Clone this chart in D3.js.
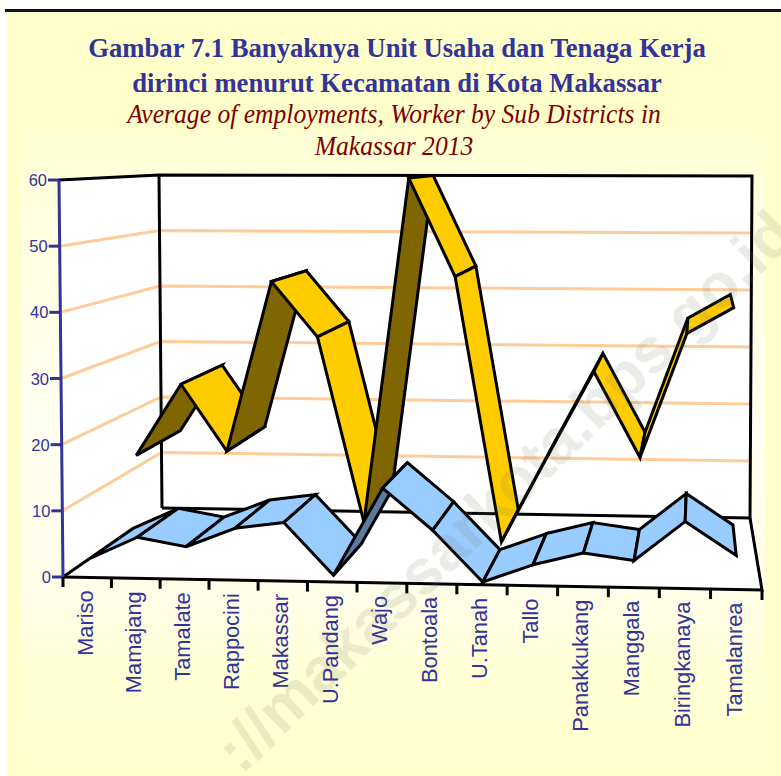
<!DOCTYPE html>
<html><head><meta charset="utf-8">
<script src="https://cdn.jsdelivr.net/npm/d3@7"></script>
<style>html,body{margin:0;padding:0;background:#fff}svg{display:block}</style>
</head><body><div id="c"></div>
<script>
const categories = ["Mariso","Mamajang","Tamalate","Rappocini","Makassar","U.Pandang","Wajo","Bontoala","U.Tanah","Tallo","Panakkukang","Manggala","Biringkanaya","Tamalanrea"];
const unitUsaha = [2.6,6,4.7,7.6,8.6,0.8,14,7.8,0.2,2.9,4.8,3.8,9.7,4.8];
const tenagaKerja = [14.2,26,15.1,43,34,3.8,60,44,1,15,28.8,15,35.1,39.3];
const valueTicks = [0,10,20,30,40,50,60];
const titleLines = ["Gambar 7.1 Banyaknya Unit Usaha dan Tenaga Kerja","dirinci menurut Kecamatan di Kota Makassar"];
const subtitleLines = ["Average of employments, Worker by Sub Districts in","Makassar 2013"];
const watermark = "://makassarkota.bps.go.id";

const W=781,H=776;
const svg=d3.select("#c").append("svg").attr("width",W).attr("height",H);
const defs=svg.append("defs");
const g1=defs.append("linearGradient").attr("id","panel").attr("x1",0).attr("y1",0).attr("x2",0).attr("y2",1);
[[0,"#ffffd2"],[.12,"#ffffe0"],[.45,"#fffff0"],[.72,"#fffee8"],[.85,"#ffffd4"],[1,"#ffffcc"]].forEach(s=>g1.append("stop").attr("offset",s[0]).attr("stop-color",s[1]));

// backdrop
svg.append("rect").attr("x",7).attr("y",10).attr("width",W-7).attr("height",H-10).attr("fill","#ffffcc");
svg.append("rect").attr("x",22).attr("y",132).attr("width",743).attr("height",H-132).attr("fill","url(#panel)");
svg.append("rect").attr("x",5).attr("y",9).attr("width",W-5).attr("height",3).attr("fill","#111");

// titles
const serif="'Liberation Serif','Times New Roman',serif", sans="'Liberation Sans',Arial,sans-serif";
titleLines.forEach((t,i)=>svg.append("text").text(t).attr("transform",`translate(397,${[57,92][i]}) scale(0.96,1)`).attr("text-anchor","middle")
  .attr("font-family",serif).attr("font-weight","bold").attr("font-size",27.8).attr("fill","#333399"));
subtitleLines.forEach((t,i)=>svg.append("text").text(t).attr("transform",`translate(394,${[123,155][i]}) scale(0.97,1)`).attr("text-anchor","middle")
  .attr("font-family",serif).attr("font-style","italic").attr("font-size",26.4).attr("fill","#800000"));

// scales: the three chart dimensions, normalised, then mapped to the page by the box corners
const band=d3.scaleBand().domain(categories).range([0,1]);
const tOf=c=>band(c)+band.bandwidth()/2;
const vScale=d3.scaleLinear().domain([0,60]).range([0,1]);
// box corners
const box={fl0:[63,577],fr0:[762,590],bl0:[162,508],br0:[750,518],
           fl1:[59,180],fr1:[764,182],bl1:[159,175],br1:[752,176]};
const mix=d3.interpolateNumber;
function P(t0,d,v){
  const w=vScale(v);
  const r=1.033-0.033*d;               // foreshortening along the category axis
  const t=t0/(t0+r*(1-t0));
  return [0,1].map(k=>{
    const a=mix(box.fl0[k],box.fr0[k])(t),b=mix(box.bl0[k],box.br0[k])(t),
          c=mix(box.fl1[k],box.fr1[k])(t),e=mix(box.bl1[k],box.br1[k])(t);
    return mix(mix(a,b)(d),mix(c,e)(d))(w);
  });
}
const line=d3.line();
const closed=pts=>line(pts)+"Z";

// walls
const plot=svg.append("g");
plot.append("path").attr("d",closed([P(0,0,0),P(0,1,0),P(1,1,0),P(1,0,0)])).attr("fill","#fff");
plot.append("path").attr("d",closed([P(0,0,0),P(0,0,60),P(0,1,60),P(0,1,0)])).attr("fill","#fff");
plot.append("path").attr("d",closed([P(0,1,0),P(0,1,60),P(1,1,60),P(1,1,0)])).attr("fill","#fff");
// gridlines
valueTicks.filter(v=>v>0&&v<60).forEach(v=>{
  plot.append("path").attr("d",line([P(0,0,v),P(0,1,v),P(1,1,v)])).attr("fill","none").attr("stroke","#ffcc99").attr("stroke-width",3);
});
const edge=(pts,col="#000",w=3)=>plot.append("path").attr("d",line(pts)).attr("fill","none").attr("stroke",col).attr("stroke-width",w);
edge([P(0,0,60),P(0,1,60),P(1,1,60),P(1,1,0),P(0,1,0)]);
edge([P(0,1,60),P(0,1,0)]);
edge([P(1,1,0),P(1,0,0),P(0,0,0)]);

// ribbons
function ribbon(values,d0,d1,topCol,underCol){
  const g=plot.append("g");
  const idx=d3.range(values.length-1);
  const centre=0.89; // across-position of the vanishing point
  idx.sort((a,b)=>Math.abs(tOf(categories[b])-centre)-Math.abs(tOf(categories[a])-centre));
  idx.forEach(i=>{
    const a=tOf(categories[i]),b=tOf(categories[i+1]);
    const q=[P(a,d0,values[i]),P(b,d0,values[i+1]),P(b,d1,values[i+1]),P(a,d1,values[i])];
    const area=d3.polygonArea(q);
    g.append("path").attr("d",closed(q)).attr("fill",area>0?topCol:underCol)
     .attr("stroke","#000").attr("stroke-width",3).attr("stroke-linejoin","miter");
  });
  return g;
}
ribbon(tenagaKerja,0.52,0.98,"#ffcc00","#806600");
ribbon(unitUsaha,0.02,0.48,"#99ccff","#5a7a9e");
// short lead-in from the axis origin
edge([P(0,0,0),P(tOf(categories[0]),0.02,unitUsaha[0])]);

// value axis
const ax=svg.append("g");
ax.append("path").attr("d",line([P(0,0,60),P(0,0,0)])).attr("fill","none").attr("stroke","#333399").attr("stroke-width",3);
valueTicks.forEach(v=>{
  const p=P(0,0,v);
  ax.append("line").attr("x1",p[0]-11).attr("x2",p[0]).attr("y1",p[1]).attr("y2",p[1]).attr("stroke","#333399").attr("stroke-width",3);
  ax.append("text").text(v).attr("x",p[0]-12).attr("y",p[1]+6).attr("text-anchor","end")
    .attr("font-family",sans).attr("font-size",16.5).attr("fill","#333399");
});
// category axis
const cx=svg.append("g");
d3.range(categories.length+1).forEach(i=>{
  const p=P(i/categories.length,0,0);
  cx.append("line").attr("x1",p[0]).attr("x2",p[0]).attr("y1",p[1]).attr("y2",p[1]+10).attr("stroke","#000").attr("stroke-width",3);
});
categories.forEach(c=>{
  const p=P(tOf(c),0,0);
  cx.append("text").text(c).attr("transform",`translate(${p[0]+5.5},${p[1]+13}) rotate(-90)`).attr("text-anchor","end")
    .attr("font-family",sans).attr("font-size",21.8).attr("fill","#333399");
});
// watermark
svg.append("text").text(watermark).attr("transform","translate(798,238) rotate(-44)").attr("text-anchor","end")
  .attr("font-family",sans).attr("font-weight","bold").attr("font-size",63)
  .attr("fill","#70705a").attr("fill-opacity",0.14);
</script></body></html>
